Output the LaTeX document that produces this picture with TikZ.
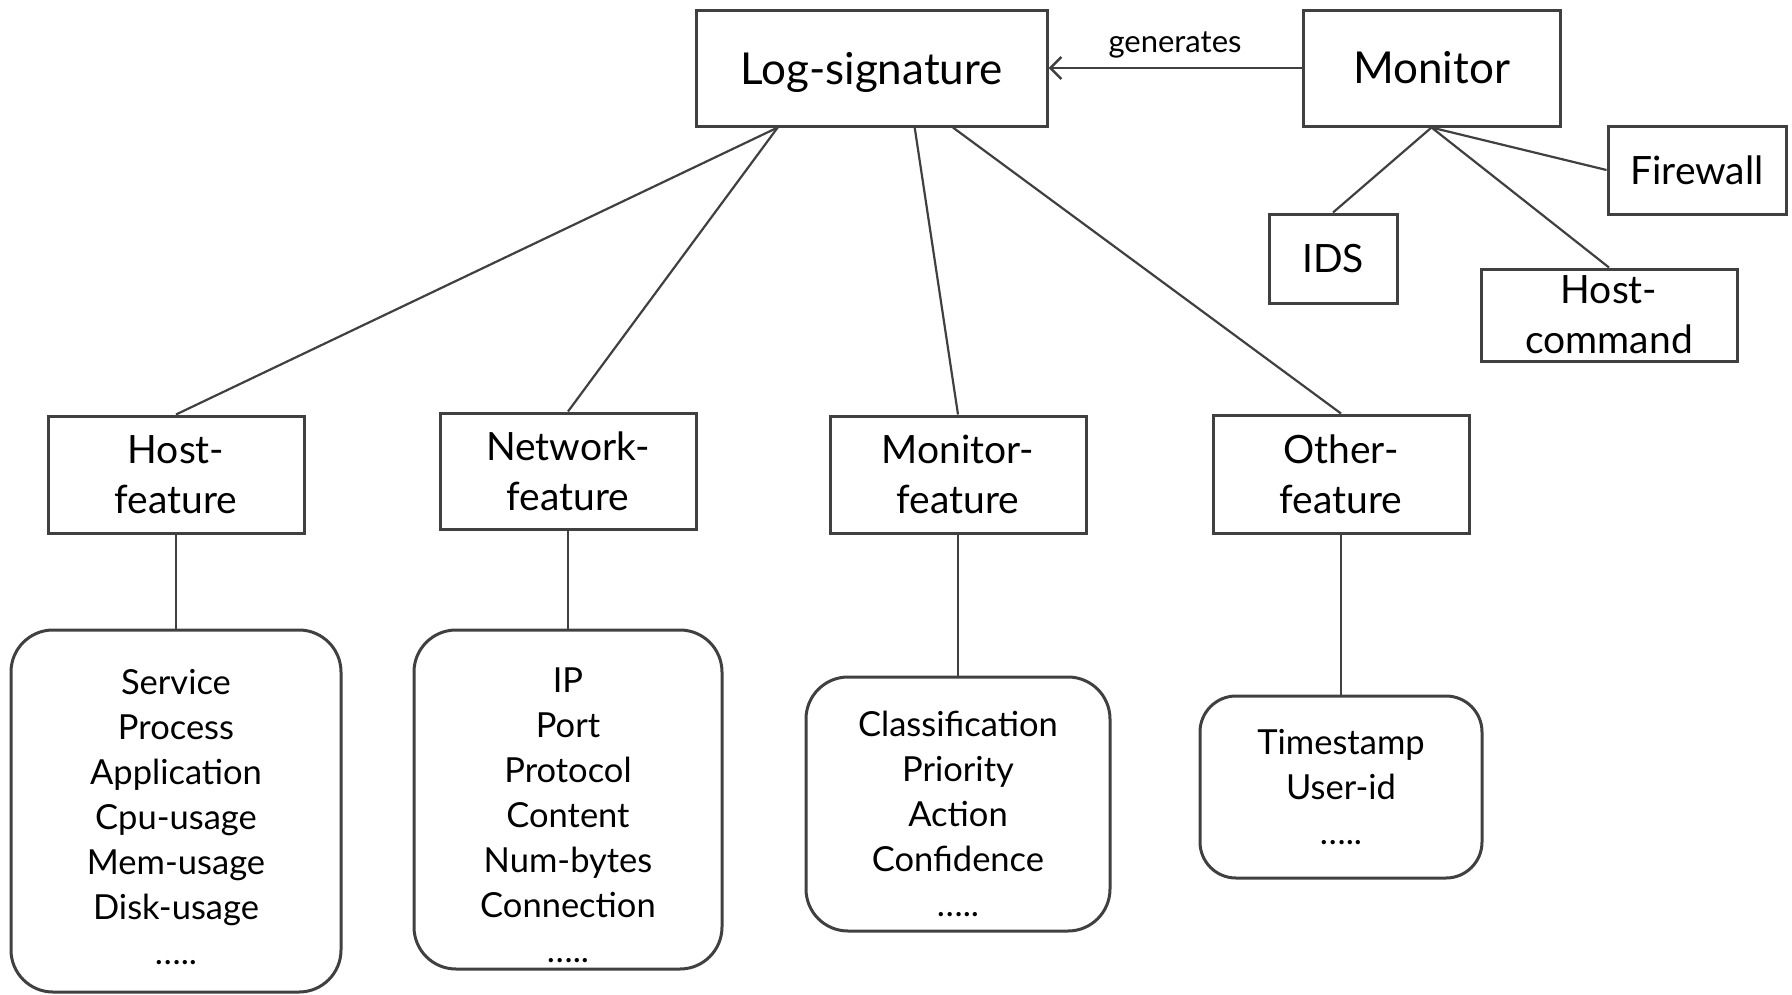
\documentclass[tikz,border=0pt]{standalone}
\usepackage{fontspec}
\setmainfont{Lato}
\usetikzlibrary{arrows.meta,calc}
\definecolor{edge}{HTML}{404040}
\tikzset{
  box/.style={draw=edge, line width=3pt, inner sep=0pt, align=center, text=black},
  listbox/.style={box, rounded corners=42pt},
  conn/.style={draw=edge, line width=2.2pt},
  bigfont/.style={font=\fontsize{44}{52}\selectfont},
  featfont/.style={font=\fontsize{39}{50}\selectfont},
  listfont/.style={font=\fontsize{34.5}{45}\selectfont},
  lblfont/.style={font=\fontsize{31}{36}\selectfont},
  listtext/.style={listfont, align=center, inner sep=0pt, text=black},
}
\begin{document}
\begin{tikzpicture}[x=1pt,y=-1pt]
\useasboundingbox (0,0) rectangle (1792,994);
% top row
\node[box,minimum width=351pt,minimum height=116pt] (ls) at (871.5,68) {};
\node[bigfont] (lst) at ($(ls.center)+(0,4)$) {Log-signature};
\node[box,bigfont,minimum width=257pt,minimum height=116pt] (mon) at (1431.5,68) {Monitor};
% monitor children
\node[box,featfont,minimum width=178pt,minimum height=88pt] (fw) at (1697,170) {Firewall};
\node[box,featfont,minimum width=128pt,minimum height=89pt] (ids) at (1333,258.5) {IDS};
\node[box,featfont,minimum width=256pt,minimum height=92pt] (hc) at (1609,315) {Host-\\command};
% features
\node[box,featfont,minimum width=256pt,minimum height=117pt] (hf) at (176,474.5) {Host-\\feature};
\node[box,featfont,minimum width=256pt,minimum height=116pt] (nf) at (568,471) {Network-\\feature};
\node[box,featfont,minimum width=256pt,minimum height=117pt] (mf) at (958,474.5) {Monitor-\\feature};
\node[box,featfont,minimum width=256pt,minimum height=118pt] (of) at (1341,474) {Other-\\feature};
% lists
\node[listbox,minimum width=330pt,minimum height=362pt] (hl) at (176,811) {};
\node[listtext] (hlt) at ($(hl.center)+(0,6)$) {Service\\Process\\Application\\Cpu-usage\\Mem-usage\\Disk-usage\\…..};
\node[listbox,minimum width=308pt,minimum height=339pt] (nl) at (568,799.5) {};
\node[listtext] (nlt) at ($(nl.center)+(0,16)$) {IP\\Port\\Protocol\\Content\\Num-bytes\\Connection\\…..};
\node[listbox,minimum width=304pt,minimum height=254pt] (ml) at (958,804) {};
\node[listtext] (mlt) at ($(ml.center)+(0,10)$) {Classification\\Priority\\Action\\Confidence\\…..};
\node[listbox,rounded corners=36pt,minimum width=282pt,minimum height=182pt] (ol) at (1341,787) {};
\node[listtext] (olt) at (ol.center) {Timestamp\\User-id\\…..};
% connectors from log-signature
\coordinate (ls1) at ($(ls.south west)!0.235!(ls.south east)$);
\coordinate (ls2) at ($(ls.south west)!0.622!(ls.south east)$);
\coordinate (ls3) at ($(ls.south west)!0.73!(ls.south east)$);
\draw[conn] (ls1) -- (hf.north);
\draw[conn] (ls1) -- (nf.north);
\draw[conn] (ls2) -- (mf.north);
\draw[conn] (ls3) -- (of.north);
% feature to list
\draw[conn] (hf.south) -- (hl.north);
\draw[conn] (nf.south) -- (nl.north);
\draw[conn] (mf.south) -- (ml.north);
\draw[conn] (of.south) -- (ol.north);
% monitor
\draw[conn] (mon.south) -- (ids.north);
\draw[conn] (mon.south) -- (fw.west);
\draw[conn] (mon.south) -- (hc.north);
\draw[conn,-{Straight Barb[length=11pt,width=22pt,line width=2.5pt]}] (mon.west) -- node[lblfont,above=5pt,text=black] (gen) {generates} (ls.east);
\end{tikzpicture}
\end{document}
